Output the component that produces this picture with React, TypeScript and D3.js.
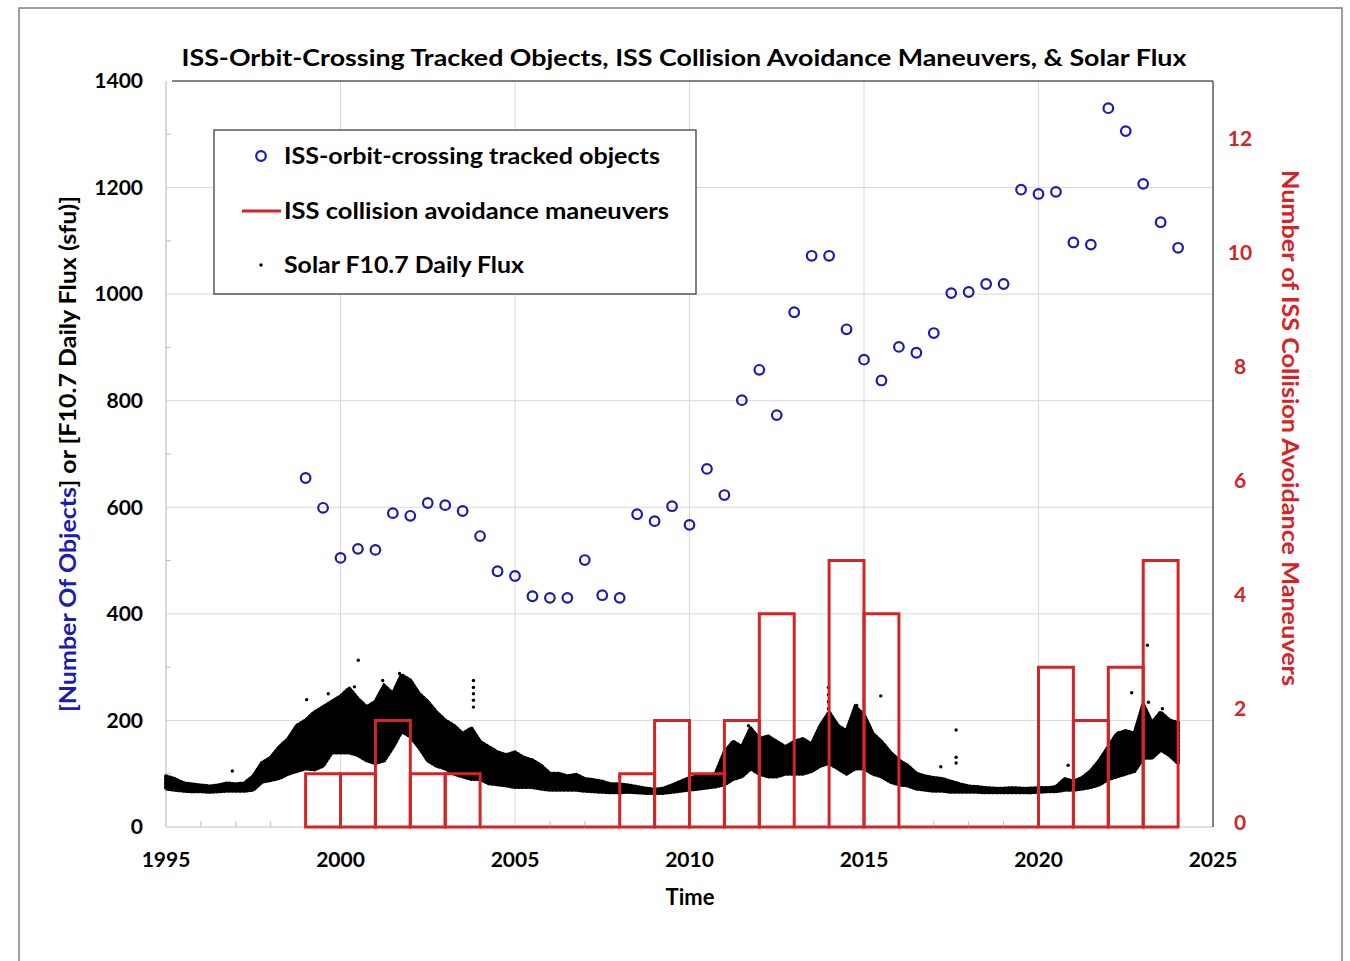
import React from 'react';
import * as d3 from 'd3';

// ---------- DATA ----------
const objYears = [1999, 1999.5, 2000, 2000.5, 2001, 2001.5, 2002, 2002.5, 2003, 2003.5, 2004, 2004.5, 2005, 2005.5, 2006, 2006.5, 2007, 2007.5, 2008, 2008.5, 2009, 2009.5, 2010, 2010.5, 2011, 2011.5, 2012, 2012.5, 2013, 2013.5, 2014, 2014.5, 2015, 2015.5, 2016, 2016.5, 2017, 2017.5, 2018, 2018.5, 2019, 2019.5, 2020, 2020.5, 2021, 2021.5, 2022, 2022.5, 2023, 2023.5, 2024];
const objCounts = [655, 599, 505, 522, 520, 589, 584, 608, 604, 593, 546, 480, 471, 433, 430, 430, 501, 435, 430, 587, 574, 602, 567, 672, 623, 801, 858, 773, 966, 1072, 1072, 934, 877, 838, 901, 890, 927, 1002, 1004, 1019, 1019, 1196, 1188, 1192, 1097, 1093, 1349, 1306, 1207, 1135, 1087];

const maneuverYears = [1999, 2000, 2001, 2002, 2003, 2004, 2005, 2006, 2007, 2008, 2009, 2010, 2011, 2012, 2013, 2014, 2015, 2016, 2017, 2018, 2019, 2020, 2021, 2022, 2023];
const maneuverCounts = [1, 1, 2, 1, 1, 0, 0, 0, 0, 1, 2, 1, 2, 4, 0, 5, 4, 0, 0, 0, 0, 3, 2, 3, 5];

const fluxYears = [
  1995, 1995.25, 1995.5, 1995.75, 1996, 1996.25, 1996.5, 1996.75, 1997, 1997.25, 1997.5, 1997.75,
  1998, 1998.25, 1998.5, 1998.75, 1999, 1999.25, 1999.5, 1999.75, 2000, 2000.25, 2000.5, 2000.75,
  2001, 2001.25, 2001.5, 2001.75, 2002, 2002.25, 2002.5, 2002.75, 2003, 2003.25, 2003.5, 2003.75,
  2004, 2004.25, 2004.5, 2004.75, 2005, 2005.25, 2005.5, 2005.75, 2006, 2006.25, 2006.5, 2006.75,
  2007, 2007.25, 2007.5, 2007.75, 2008, 2008.25, 2008.5, 2008.75, 2009, 2009.25, 2009.5, 2009.75,
  2010, 2010.25, 2010.5, 2010.75, 2011, 2011.25, 2011.5, 2011.75, 2012, 2012.25, 2012.5, 2012.75,
  2013, 2013.25, 2013.5, 2013.75, 2014, 2014.25, 2014.5, 2014.75, 2015, 2015.25, 2015.5, 2015.75,
  2016, 2016.25, 2016.5, 2016.75, 2017, 2017.25, 2017.5, 2017.75, 2018, 2018.25, 2018.5, 2018.75,
  2019, 2019.25, 2019.5, 2019.75, 2020, 2020.25, 2020.5, 2020.75, 2021, 2021.25, 2021.5, 2021.75,
  2022, 2022.25, 2022.5, 2022.75, 2023, 2023.25, 2023.5, 2023.75, 2024
];
const fluxLow = [
  72, 70, 68, 67, 67, 66, 67, 68, 68, 68, 70, 85,
  88, 92, 100, 105, 110, 108, 115, 140, 140, 140, 135, 125,
  120, 125, 150, 180, 170, 150, 125, 115, 110, 100, 95, 90,
  90, 82, 80, 78, 75, 75, 75, 72, 70, 70, 70, 70,
  68, 67, 66, 65, 65, 66, 65, 64, 64, 64, 66, 68,
  70, 72, 74, 76, 80, 90, 95, 110, 100, 95, 95, 100,
  100, 100, 105, 115, 120, 110, 100, 110, 110, 100, 95, 85,
  80, 78, 72, 70, 68, 68, 66, 66, 66, 66, 65, 65,
  65, 65, 65, 65, 66, 67, 67, 70, 70, 72, 75, 80,
  90, 95, 100, 105, 130, 130, 145, 135, 120
];
const fluxHigh = [
  95, 90, 82, 80, 78, 76, 78, 82, 80, 82, 95, 120,
  130, 150, 165, 190, 200, 215, 225, 235, 245, 260, 240, 225,
  235, 265, 250, 285, 275, 250, 235, 215, 200, 190, 175, 185,
  160, 150, 140, 135, 140, 130, 125, 115, 100, 100, 95, 98,
  90, 88, 85, 80, 80, 78, 75, 72, 70, 72, 78, 85,
  92, 95, 95, 100, 140, 160, 150, 185, 165, 170, 160, 150,
  160, 165, 155, 190, 215, 190, 180, 225, 210, 175, 160, 140,
  125, 115, 100, 95, 92, 90, 85, 80, 76, 75, 73, 72,
  72, 73, 72, 72, 73, 73, 75, 90, 85, 92, 105, 125,
  150, 175, 180, 175, 230, 195, 215, 200, 195
];
const spikeYears = [1996.9, 1999.03, 1999.65, 2000.4, 2000.51, 2001.21, 2001.69, 2001.9, 2003.81, 2003.81, 2003.81, 2003.81, 2003.81, 2008.0, 2011.69, 2013.98, 2013.98, 2013.98, 2013.98, 2014.79, 2015.48, 2017.2, 2017.64, 2017.64, 2017.64, 2020.85, 2022.67, 2023.12, 2023.15, 2023.55];
const spikeValues = [105, 239, 250, 263, 313, 275, 288, 275, 275, 262, 250, 238, 225, 94, 190, 262, 248, 235, 222, 228, 246, 113, 182, 131, 120, 116, 252, 341, 234, 222];

const leftTicks = [0, 200, 400, 600, 800, 1000, 1200, 1400];
const leftMinor = [100, 300, 500, 700, 900, 1100, 1300];
const rightTicks = [0, 2, 4, 6, 8, 10, 12];
const xTicks = [1995, 2000, 2005, 2010, 2015, 2020, 2025];
const xMinor = [1996, 1997, 1998, 1999, 2001, 2002, 2003, 2004, 2006, 2007, 2008, 2009, 2011, 2012, 2013, 2014, 2016, 2017, 2018, 2019, 2021, 2022, 2023, 2024];

// ---------- LAYOUT ----------
const W = 1350, H = 961;
const P = { left: 166, right: 1213, top: 81, bottom: 827 };
const FONT = "Lato, 'Open Sans', 'DejaVu Sans', sans-serif";
const RED = '#d42426';
const BLUE = '#1c1cae';
const GRID = '#d9d9d9';

const x = d3.scaleLinear().domain([1995, 2025]).range([P.left, P.right]);
const yL = d3.scaleLinear().domain([0, 1400]).range([P.bottom, P.top]);
const yBar = d3.scaleLinear().domain([0, 14]).range([P.bottom, P.top]);
const yR = d3.scaleLinear().domain([0, 12]).range([823, 139]);

const fluxRows = fluxYears.map((yr, i) => ({ yr, lo: fluxLow[i], hi: fluxHigh[i] }));
const fluxArea = d3.area<{ yr: number; lo: number; hi: number }>()
  .x(d => x(d.yr))
  .y0(d => yL(d.lo))
  .y1(d => yL(d.hi))
  .curve(d3.curveLinear);
const fluxPath = fluxArea(fluxRows) || '';

export default function App() {
  return (
    <svg width={W} height={H} style={{ position: 'absolute', left: 0, top: 0, background: '#fff' }} fontFamily={FONT}>
      <rect x={0} y={0} width={W} height={H} fill="#fff" />
      <rect x={19} y={8} width={1323} height={1000} fill="none" stroke="#7f7f7f" strokeWidth={1.5} />

      {/* gridlines */}
      {leftTicks.filter(t => t > 0 && t < 1400).map(t => (
        <line key={'hg' + t} x1={P.left} x2={P.right} y1={yL(t)} y2={yL(t)} stroke={GRID} strokeWidth={1} />
      ))}
      {xTicks.filter(t => t > 1995 && t < 2025).map(t => (
        <line key={'vg' + t} x1={x(t)} x2={x(t)} y1={P.top} y2={P.bottom} stroke={GRID} strokeWidth={1} />
      ))}
      {leftMinor.map(t => (
        <line key={'lm' + t} x1={P.left} x2={P.left + 5} y1={yL(t)} y2={yL(t)} stroke="#bfbfbf" strokeWidth={1} />
      ))}
      {xMinor.map(t => (
        <line key={'xm' + t} x1={x(t)} x2={x(t)} y1={P.bottom} y2={P.bottom - 6} stroke="#bfbfbf" strokeWidth={1} />
      ))}

      {/* axes frame */}
      <line x1={P.left} x2={P.left} y1={P.top} y2={P.bottom} stroke="#bfbfbf" strokeWidth={1.2} />
      <line x1={P.left} x2={P.right} y1={P.bottom} y2={P.bottom} stroke="#bfbfbf" strokeWidth={1.2} />
      <line x1={P.left + 6} x2={P.right} y1={P.top} y2={P.top} stroke="#595959" strokeWidth={1.5} />
      <line x1={P.right} x2={P.right} y1={P.top} y2={P.bottom} stroke="#595959" strokeWidth={1.5} />

      {/* solar flux */}
      <path d={fluxPath} fill="#000" stroke="none" />
      <path d={fluxPath} fill="none" stroke="#000" strokeWidth={4} strokeDasharray="1.6 2.2" strokeLinecap="round" />
      {spikeYears.map((yr, i) => (
        <circle key={'sp' + i} cx={x(yr)} cy={yL(spikeValues[i])} r={1.7} fill="#000" />
      ))}

      {/* maneuvers */}
      {maneuverYears.map((yr, i) => {
        const x0 = x(yr), x1 = x(yr + 1), b = yBar(0), t = yBar(maneuverCounts[i]);
        return (
          <path key={'mb' + yr} d={`M${x0},${b}V${t}H${x1}V${b}Z`} fill="none" stroke={RED} strokeWidth={3} />
        );
      })}

      {/* objects */}
      {objYears.map((yr, i) => (
        <circle key={'ob' + yr} cx={x(yr)} cy={yL(objCounts[i])} r={4.8} fill="none" stroke={BLUE} strokeWidth={2.2} />
      ))}

      {/* left tick labels */}
      {leftTicks.map(t => (
        <text key={'lt' + t} x={143} y={yL(t)} dy="0.35em" textAnchor="end" fontSize={21} fontWeight={700} fill="#000">{t}</text>
      ))}
      {/* right tick labels */}
      {rightTicks.map(t => (
        <text key={'rt' + t} x={1240} y={yR(t)} dy="0.35em" textAnchor="middle" fontSize={21} fontWeight={700} fill={RED}>{t}</text>
      ))}
      {/* x tick labels */}
      {xTicks.map(t => (
        <text key={'xt' + t} x={x(t)} y={860} dy="0.35em" textAnchor="middle" fontSize={21} fontWeight={700} fill="#000">{t}</text>
      ))}

      {/* titles */}
      <text x={684} y={58} dy="0.35em" textAnchor="middle" fontSize={22} fontWeight={700} fill="#000" textLength={1005} lengthAdjust="spacingAndGlyphs">
        ISS-Orbit-Crossing Tracked Objects, ISS Collision  Avoidance  Maneuvers, &amp; Solar Flux
      </text>
      <text x={690} y={897} dy="0.35em" textAnchor="middle" fontSize={22} fontWeight={700} fill="#000">Time</text>
      <text transform="translate(68,454) rotate(-90)" textAnchor="middle" dy="0.35em" fontSize={22} fontWeight={700} textLength={516} lengthAdjust="spacingAndGlyphs">
        <tspan fill={BLUE}>[Number Of Objects</tspan><tspan fill="#000">] or [F10.7 Daily Flux (sfu)]</tspan>
      </text>
      <text transform="translate(1290,428) rotate(90)" textAnchor="middle" dy="0.35em" fontSize={22} fontWeight={700} fill={RED} textLength={516} lengthAdjust="spacingAndGlyphs">
        Number of ISS Collision Avoidance Maneuvers
      </text>

      {/* legend */}
      <rect x={214} y={130} width={482} height={164} fill="#fff" stroke="#404040" strokeWidth={1.3} />
      <circle cx={261} cy={156} r={4.8} fill="none" stroke={BLUE} strokeWidth={2.2} />
      <text x={284} y={156} dy="0.35em" fontSize={22} fontWeight={700} fill="#000" textLength={376} lengthAdjust="spacingAndGlyphs">ISS-orbit-crossing tracked objects</text>
      <line x1={242} x2={281} y1={211} y2={211} stroke={RED} strokeWidth={3} />
      <text x={284} y={211} dy="0.35em" fontSize={22} fontWeight={700} fill="#000" textLength={385} lengthAdjust="spacingAndGlyphs">ISS collision avoidance maneuvers</text>
      <circle cx={261} cy={265} r={1.7} fill="#000" />
      <text x={284} y={265} dy="0.35em" fontSize={22} fontWeight={700} fill="#000" textLength={240} lengthAdjust="spacingAndGlyphs">Solar F10.7 Daily Flux</text>
    </svg>
  );
}
